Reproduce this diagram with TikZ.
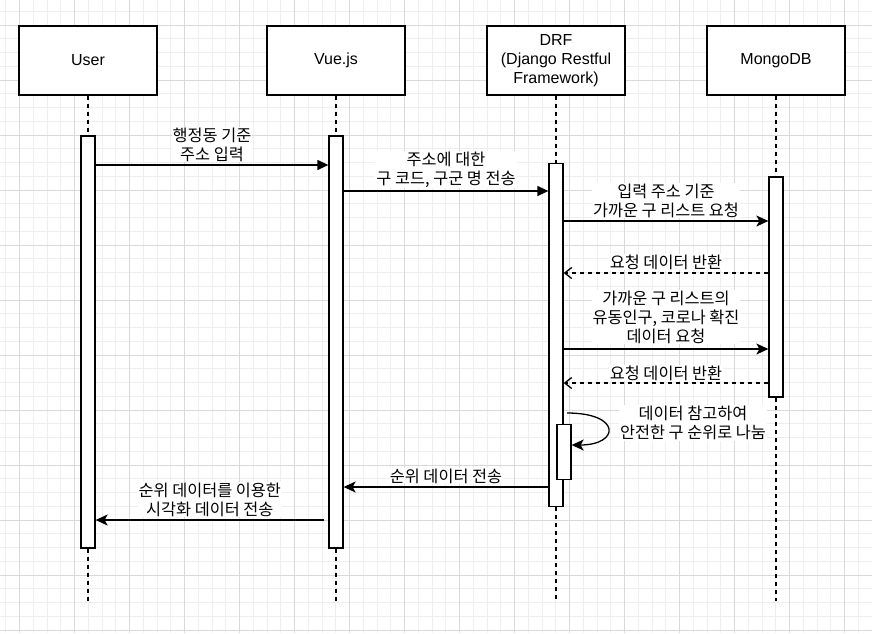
\documentclass[tikz,border=0pt]{standalone}
\usepackage{fontspec}
\setmainfont{Liberation Sans}
\newfontfamily\kr{Noto Sans CJK KR}
\usetikzlibrary{arrows.meta}

\definecolor{gridlight}{HTML}{EEEEEE}
\definecolor{griddark}{HTML}{D9D9D9}

\begin{document}
\begin{tikzpicture}[x=1pt, y=-1pt,
  box/.style={draw, line width=1.3pt, fill=white, minimum width=138pt,
    minimum height=69pt, align=center, font=\fontsize{16}{19.2}\selectfont},
  bar/.style={draw, line width=1.3pt, fill=white, minimum width=14pt, inner sep=0pt},
  life/.style={line width=1.6pt, dash pattern=on 4pt off 4pt},
  lbl/.style={fill=white, inner sep=1pt, align=center,
    font=\kr\fontsize{16.3}{18.8}\selectfont},
  call/.style={line width=1.3pt, -{Triangle[length=11pt,width=10pt]}},
  calltwo/.style={line width=1.3pt, -{Stealth[length=12pt,width=11pt,inset=3pt]}},
  reply/.style={line width=1.3pt, dash pattern=on 4pt off 4pt,
    -{Straight Barb[length=7pt,width=11pt]}}]

%------------------ BACKGROUND GRID ------------------%
\fill[white] (0,0) rectangle (872,633);
\useasboundingbox (0,0) rectangle (872,633);
\foreach \i in {0,...,63}
  \draw[gridlight, line width=1pt] ({5.85+13.75*\i},0) -- ({5.85+13.75*\i},633);
\foreach \i in {0,...,45}
  \draw[gridlight, line width=1pt] (0,{11.25+13.75*\i}) -- (872,{11.25+13.75*\i});
\foreach \i in {0,...,15}
  \draw[griddark, line width=1pt] ({19.6+55*\i},0) -- ({19.6+55*\i},633);
\foreach \i in {0,...,11}
  \draw[griddark, line width=1pt] (0,{25+55*\i}) -- (872,{25+55*\i});

%------------------ PARTICIPANTS ------------------%
\node[box] (user)  at (88,60.5)  {User};
\node[box] (vue)   at (336,60.5) {Vue.js};
\node[box] (drf)   at (556,60.5) {DRF\\(Django Restful\\Framework)};
\node[box] (mongo) at (776,60.5) {MongoDB};

% lifeline ends
\coordinate (userend)  at (88,601);
\coordinate (vueend)   at (336,601);
\coordinate (drfend)   at (556,601);
\coordinate (mongoend) at (776,601);

% activation bars
\node[bar, minimum height=412pt] (userbar)  at (88,342)  {};
\node[bar, minimum height=412pt] (vuebar)   at (336,342) {};
\node[bar, minimum height=343pt] (drfbar)   at (556,335) {};
\node[bar, minimum height=220pt] (mongobar) at (776,287) {};

\draw[life] (user)  -- (userbar);  \draw[life] (userbar)  -- (userend);
\draw[life] (vue)   -- (vuebar);   \draw[life] (vuebar)   -- (vueend);
\draw[life] (drf)   -- (drfbar);   \draw[life] (drfbar)   -- (drfend);
\draw[life] (mongo) -- (mongobar); \draw[life] (mongobar) -- (mongoend);

% redraw bars over the lifelines
\node[bar, minimum height=412pt] at (userbar)  {};
\node[bar, minimum height=412pt] at (vuebar)   {};
\node[bar, minimum height=343pt] at (drfbar)   {};
\node[bar, minimum height=220pt] at (mongobar) {};
\node[bar, minimum height=55pt] (selfbar) at (564,452) {};

%------------------ MESSAGES ------------------%
\coordinate (m1) at (0,165);
\coordinate (m2) at (0,191);
\coordinate (m3) at (0,221);
\coordinate (m4) at (0,273);
\coordinate (m5) at (0,349);
\coordinate (m6) at (0,383);
\coordinate (m8) at (0,487);
\coordinate (m9) at (324,520);

\draw[call] (userbar.east |- m1) -- (vuebar.west |- m1)
  node[lbl, midway, above=2pt] {행정동 기준\\주소 입력};
\draw[call] (vuebar.east |- m2) -- (drfbar.west |- m2)
  node[lbl, midway, above=2pt] {주소에 대한\\구 코드, 구군 명 전송};
\draw[calltwo] (drfbar.east |- m3) -- (mongobar.west |- m3)
  node[lbl, midway, above=2pt] {입력 주소 기준\\가까운 구 리스트 요청};
\draw[reply] (mongobar.west |- m4) -- (drfbar.east |- m4)
  node[lbl, midway, above=2pt] {요청 데이터 반환};
\draw[calltwo] (drfbar.east |- m5) -- (mongobar.west |- m5)
  node[lbl, midway, above=4pt] {가까운 구 리스트의\\유동인구, 코로나 확진\\데이터 요청};
\draw[reply] (mongobar.west |- m6) -- (drfbar.east |- m6)
  node[lbl, midway, above=1pt] {요청 데이터 반환};

% self call
\coordinate (s1) at (567,413);
\coordinate (s2) at (0,445);
\draw[calltwo] (s1) .. controls +(55,0) and +(48,0) .. (selfbar.east |- s2);
\node[lbl] (selfnote) at (693,423) {데이터 참고하여\\안전한 구 순위로 나눔};

\draw[calltwo] (drfbar.west |- m8) -- (vuebar.east |- m8)
  node[lbl, midway, above=2pt] {순위 데이터 전송};
\draw[calltwo] (m9) -- (userbar.east |- m9)
  node[lbl, midway, above=2pt] {순위 데이터를 이용한\\시각화 데이터 전송};

\end{tikzpicture}
\end{document}
